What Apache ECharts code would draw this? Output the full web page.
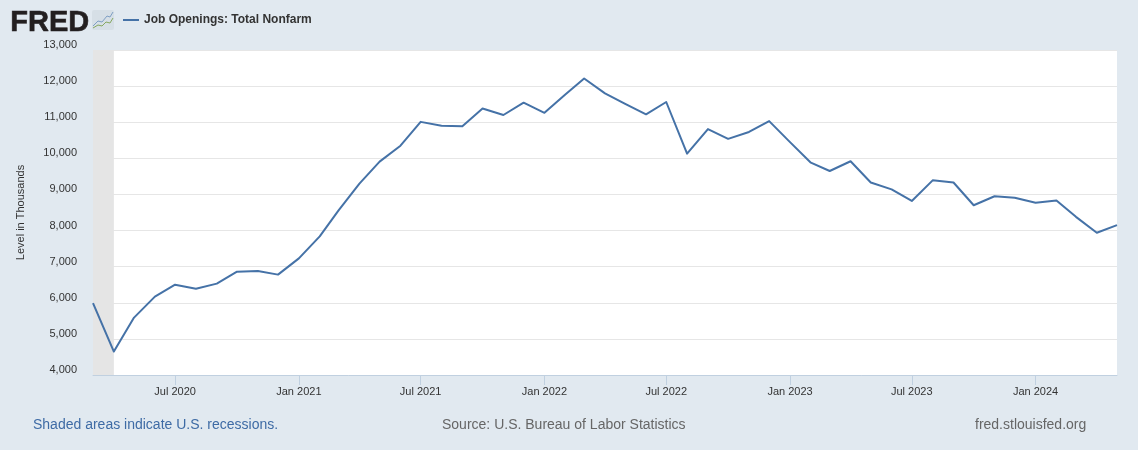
<!DOCTYPE html>
<html><head><meta charset="utf-8">
<style>html,body{margin:0;padding:0;background:#e1e9f0}#c{width:1138px;height:450px}</style>
<script src="https://cdn.jsdelivr.net/npm/echarts@6/dist/echarts.min.js"></script>
</head><body><div id="c"></div>
<script>
const seriesName = 'Job Openings: Total Nonfarm';
const months = [
'2020-03-01','2020-04-01','2020-05-01','2020-06-01','2020-07-01','2020-08-01','2020-09-01','2020-10-01','2020-11-01','2020-12-01',
'2021-01-01','2021-02-01','2021-03-01','2021-04-01','2021-05-01','2021-06-01','2021-07-01','2021-08-01','2021-09-01','2021-10-01','2021-11-01','2021-12-01',
'2022-01-01','2022-02-01','2022-03-01','2022-04-01','2022-05-01','2022-06-01','2022-07-01','2022-08-01','2022-09-01','2022-10-01','2022-11-01','2022-12-01',
'2023-01-01','2023-02-01','2023-03-01','2023-04-01','2023-05-01','2023-06-01','2023-07-01','2023-08-01','2023-09-01','2023-10-01','2023-11-01','2023-12-01',
'2024-01-01','2024-02-01','2024-03-01','2024-04-01','2024-05-01'];
const openings = [
5990,4650,5590,6170,6500,6390,6530,6860,6880,6780,
7230,7840,8560,9300,9910,10350,11010,10900,10890,11380,11200,11540,
11260,11770,12210,11800,11510,11220,11560,10130,10810,10540,10730,11030,
10450,9880,9650,9920,9330,9140,8820,9390,9330,8700,8950,8910,
8770,8830,8380,7940,8150];
const tickDates = ['2020-07-01','2021-01-01','2021-07-01','2022-01-01','2022-07-01','2023-01-01','2023-07-01','2024-01-01'];
const tickLabels = ['Jul 2020','Jan 2021','Jul 2021','Jan 2022','Jul 2022','Jan 2023','Jul 2023','Jan 2024'];
const recession = ['2020-03-01','2020-04-01'];
const footLeft = 'Shaded areas indicate U.S. recessions.';
const footMid = 'Source: U.S. Bureau of Labor Statistics';
const footRight = 'fred.stlouisfed.org';

const FONT = '"Liberation Sans", Arial, sans-serif';
const ts = d => Date.parse(d + 'T00:00:00Z');
const tickTs = tickDates.map(ts);

const chart = echarts.init(document.getElementById('c'), null, {renderer:'canvas'});
chart.setOption({
  animation:false,
  backgroundColor:'#e1e9f0',
  textStyle:{fontFamily:FONT},
  grid:{left:93, right:21, top:50, bottom:75, containLabel:false, backgroundColor:'#fff', show:true, borderWidth:0},
  legend:{show:false},
  xAxis:{
    type:'value',
    scale:true,
    min:ts(months[0]), max:ts(months[months.length-1]),
    axisLine:{show:true,lineStyle:{color:'#c0d0e0',width:1}},
    axisTick:{show:true,length:10,lineStyle:{color:'#c0d0e0',width:1},customValues:tickTs},
    splitLine:{show:false},
    axisLabel:{
      customValues:tickTs, margin:11, color:'#333', fontSize:11, fontFamily:FONT,hideOverlap:false,
      formatter:v=>{const i=tickTs.indexOf(v);return i>=0?tickLabels[i]:'';}
    }
  },
  yAxis:{
    type:'value', min:4000, max:13000, interval:1000,
    name:'Level in Thousands', nameLocation:'middle', nameGap:67, nameRotate:90,
    nameTextStyle:{color:'#333',fontSize:11,fontFamily:FONT},
    axisLine:{show:false}, axisTick:{show:false},
    splitLine:{show:true,lineStyle:{color:'#e6e6e6',width:1}},
    axisLabel:{margin:16,color:'#333',fontSize:11,fontFamily:FONT,verticalAlign:'bottom',lineHeight:10,
      formatter:v=>v.toLocaleString('en-US')}
  },
  series:[{
    name:seriesName,type:'line',symbol:'none',smooth:false,
    data:months.map((m,i)=>[ts(m),openings[i]]),
    lineStyle:{color:'#4572a7',width:2,join:'round'},
    itemStyle:{color:'#4572a7'},
    z:3,
    markArea:{silent:true,itemStyle:{color:'#e5e5e5'},label:{show:false},
      data:[[{xAxis:ts(recession[0])},{xAxis:ts(recession[1])}]]}
  }],
  graphic:[
    {type:'text',left:10,top:8,style:{text:'FRED',fontFamily:FONT,fontWeight:'900',fontSize:29,fill:'#231f20',stroke:'#231f20',lineWidth:0.6}},
    {type:'rect',shape:{x:92,y:10,width:22,height:20,r:2},style:{fill:'#d6dfe6'}},
    {type:'polyline',shape:{points:[[93,26],[98,21],[102,22],[107,16],[110,17],[113,12]]},style:{stroke:'#7f9fc4',lineWidth:1,fill:null}},
    {type:'polyline',shape:{points:[[93,28],[98,25],[102,26],[106,22],[110,23],[113,18]]},style:{stroke:'#86a860',lineWidth:1,fill:null}},
    {type:'line',shape:{x1:123,y1:20,x2:139,y2:20},style:{stroke:'#4572a7',lineWidth:2}},
    {type:'text',left:144,top:14,style:{text:seriesName,fontFamily:FONT,fontWeight:'bold',fontSize:12,fill:'#333'}},
    {type:'text',left:33,top:418,style:{text:footLeft,fontFamily:FONT,fontSize:14,fill:'#3e6ba5'}},
    {type:'text',left:442,top:418,style:{text:footMid,fontFamily:FONT,fontSize:14,fill:'#666'}},
    {type:'text',left:975,top:418,style:{text:footRight,fontFamily:FONT,fontSize:14,fill:'#666'}}
  ]
});
</script></body></html>
